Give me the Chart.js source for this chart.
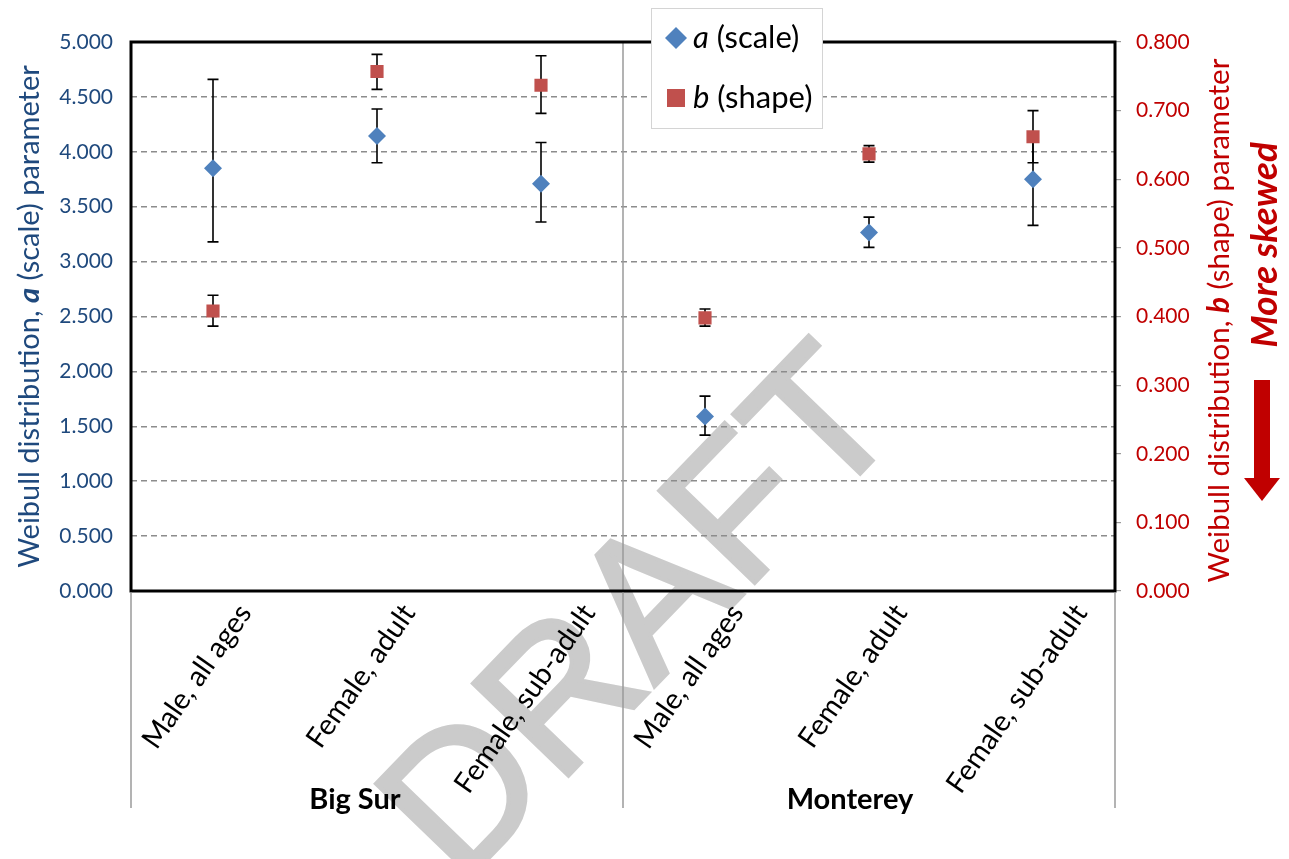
<!DOCTYPE html>
<html>
<head>
<meta charset="utf-8">
<script src="https://cdn.jsdelivr.net/npm/chart.js@4.4.1/dist/chart.umd.min.js"></script>
<style>
  html, body { margin: 0; padding: 0; background: #ffffff; }
  #wrap { width: 1289px; height: 859px; position: relative; }
</style>
</head>
<body>
<div id="wrap"><canvas id="weibull" width="1289" height="859"></canvas></div>
<script>
// Sample groups and the categories within each
const groups = ['Big Sur', 'Monterey'];
const categories = ['Male, all ages', 'Female, adult', 'Female, sub-adult',
                    'Male, all ages', 'Female, adult', 'Female, sub-adult'];

// Weibull scale parameter a, with lower / upper confidence limits
const scaleA     = [3.850, 4.145, 3.710, 1.590, 3.265, 3.750];
const scaleALow  = [3.180, 3.900, 3.360, 1.420, 3.130, 3.330];
const scaleAHigh = [4.660, 4.390, 4.085, 1.775, 3.405, 4.160];

// Weibull shape parameter b, with lower / upper confidence limits
const shapeB     = [0.408, 0.757, 0.737, 0.398, 0.637, 0.662];
const shapeBLow  = [0.386, 0.731, 0.696, 0.386, 0.625, 0.624];
const shapeBHigh = [0.431, 0.782, 0.780, 0.411, 0.649, 0.700];

// Axis ranges
const leftAxis  = { min: 0, max: 5,   step: 0.5 };
const rightAxis = { min: 0, max: 0.8, step: 0.1 };

const BLUE_TEXT = '#1F497D';
const RED_TEXT = '#C00000';
const FONT = 'Lato, "Open Sans", sans-serif';

// Draw a sequence of differently styled text runs centred on (cx, cy)
function drawRuns(ctx, runs, cx, cy, rotation, color, size) {
  ctx.save();
  ctx.translate(cx, cy);
  ctx.rotate(rotation);
  ctx.fillStyle = color;
  ctx.textBaseline = 'middle';
  ctx.textAlign = 'left';
  let total = 0;
  runs.forEach(r => { ctx.font = `${r.style || ''} ${size}px ${FONT}`; r.w = ctx.measureText(r.text).width; total += r.w; });
  let x = -total / 2;
  runs.forEach(r => { ctx.font = `${r.style || ''} ${size}px ${FONT}`; ctx.fillText(r.text, x, 0); x += r.w; });
  ctx.restore();
}

const decor = {
  id: 'decor',
  beforeDraw(chart) {
    const ctx = chart.ctx;
    ctx.save();
    ctx.fillStyle = '#ffffff';
    ctx.fillRect(0, 0, chart.width, chart.height);
    // DRAFT watermark
    ctx.translate(684, 656);
    ctx.rotate(-46 * Math.PI / 180);
    ctx.font = '193px "Liberation Sans", Arial, sans-serif';
    ctx.fillStyle = '#CBCBCB';
    ctx.strokeStyle = '#CBCBCB';
    ctx.lineWidth = 4;
    ctx.textAlign = 'center';
    ctx.textBaseline = 'alphabetic';
    ctx.fillText('DRAFT', 0, 0);
    ctx.strokeText('DRAFT', 0, 0);
    ctx.restore();
  },
  beforeDatasetsDraw(chart) {
    const ctx = chart.ctx;
    const x = chart.scales.x;
    const area = chart.chartArea;
    // separator between the two groups
    const mid = (x.getPixelForValue(2) + x.getPixelForValue(3)) / 2;
    ctx.save();
    ctx.strokeStyle = '#9a9a9a';
    ctx.lineWidth = 1.5;
    ctx.beginPath();
    ctx.moveTo(mid, area.top);
    ctx.lineTo(mid, area.bottom);
    ctx.stroke();
    // error bars
    ctx.strokeStyle = '#000000';
    ctx.lineWidth = 1.6;
    chart.data.datasets.forEach((ds, i) => {
      const meta = chart.getDatasetMeta(i);
      const scale = chart.scales[ds.yAxisID];
      meta.data.forEach((pt, j) => {
        const yl = scale.getPixelForValue(ds.errLow[j]);
        const yh = scale.getPixelForValue(ds.errHigh[j]);
        const cap = 5.5;
        ctx.beginPath();
        ctx.moveTo(pt.x, yl); ctx.lineTo(pt.x, yh);
        ctx.moveTo(pt.x - cap, yl); ctx.lineTo(pt.x + cap, yl);
        ctx.moveTo(pt.x - cap, yh); ctx.lineTo(pt.x + cap, yh);
        ctx.stroke();
      });
    });
    ctx.restore();
  },
  afterDraw(chart) {
    const ctx = chart.ctx;
    const area = chart.chartArea;
    const x = chart.scales.x;
    const ds = chart.data.datasets;
    ctx.save();

    // plot frame
    ctx.strokeStyle = '#000000';
    ctx.lineWidth = 3;
    ctx.strokeRect(area.left, area.top, area.right - area.left, area.bottom - area.top);

    // rotated category labels: bounding box hangs from the axis, centred near the tick
    const angle = 55 * Math.PI / 180;
    const labelSize = 28.7;
    ctx.fillStyle = '#000000';
    ctx.font = `${labelSize}px ${FONT}`;
    ctx.textAlign = 'center';
    ctx.textBaseline = 'middle';
    chart.data.labels.forEach((lab, i) => {
      const w = ctx.measureText(lab).width;
      const h = labelSize * 0.95;
      const boxH = w * Math.sin(angle) + h * Math.cos(angle);
      const cx = x.getPixelForValue(i) - 16;
      const cy = area.bottom + 9 + boxH / 2;
      ctx.save();
      ctx.translate(cx, cy);
      ctx.rotate(-angle);
      ctx.fillText(lab, 0, 0);
      ctx.restore();
    });

    // group separators below the plot
    const mid = (x.getPixelForValue(2) + x.getPixelForValue(3)) / 2;
    const sepBottom = 808;
    ctx.strokeStyle = '#9a9a9a';
    ctx.lineWidth = 1.5;
    ctx.beginPath();
    [area.left, mid, area.right].forEach(px => {
      ctx.moveTo(px, area.bottom + 1.5);
      ctx.lineTo(px, sepBottom);
    });
    ctx.stroke();

    // group names
    ctx.fillStyle = '#000000';
    ctx.font = `bold 29px ${FONT}`;
    ctx.textAlign = 'center';
    ctx.textBaseline = 'middle';
    const g1 = (x.getPixelForValue(0) + x.getPixelForValue(2)) / 2 - 22;
    const g2 = (x.getPixelForValue(3) + x.getPixelForValue(5)) / 2 - 19;
    ctx.fillText(groups[0], g1, 800);
    ctx.fillText(groups[1], g2, 800);

    // axis titles
    drawRuns(ctx, [{ text: 'Weibull distribution, ' }, { text: 'a', style: 'italic bold' }, { text: ' (scale) parameter' }],
      30, (area.top + area.bottom) / 2, -Math.PI / 2, BLUE_TEXT, 29);
    drawRuns(ctx, [{ text: 'Weibull distribution, ' }, { text: 'b', style: 'italic bold' }, { text: ' (shape) parameter' }],
      1219, (area.top + area.bottom) / 2 + 4, -Math.PI / 2, RED_TEXT, 29.5);

    // skew note and arrow
    drawRuns(ctx, [{ text: 'More skewed', style: 'italic bold' }], 1265, 245, -Math.PI / 2, RED_TEXT, 37);
    ctx.fillStyle = RED_TEXT;
    ctx.fillRect(1254, 380, 16, 98);
    ctx.beginPath();
    ctx.moveTo(1244, 478); ctx.lineTo(1280, 478); ctx.lineTo(1262, 501); ctx.closePath();
    ctx.fill();

    // legend
    const lx = 651.5, ly = 8.5, lw = 171, lh = 120;
    ctx.fillStyle = '#ffffff';
    ctx.fillRect(lx, ly, lw, lh);
    ctx.strokeStyle = '#d4d4d4';
    ctx.lineWidth = 1;
    ctx.strokeRect(lx, ly, lw, lh);
    // a marker
    ctx.fillStyle = ds[0].backgroundColor;
    ctx.beginPath();
    ctx.moveTo(676, 27); ctx.lineTo(687, 38); ctx.lineTo(676, 49); ctx.lineTo(665, 38); ctx.closePath();
    ctx.fill();
    // b marker
    ctx.fillStyle = ds[1].backgroundColor;
    ctx.fillRect(667, 89, 18, 18);
    ctx.fillStyle = '#000000';
    ctx.textAlign = 'left';
    ctx.textBaseline = 'middle';
    const legendRow = (y, letter, rest) => {
      ctx.font = `italic 31px ${FONT}`;
      ctx.fillText(letter, 693, y);
      const w = ctx.measureText(letter).width;
      ctx.font = `31px ${FONT}`;
      ctx.fillText(rest, 693 + w, y);
    };
    legendRow(38, 'a', ' (scale)');
    legendRow(98, 'b', ' (shape)');
    ctx.restore();
  }
};

const ctx = document.getElementById('weibull').getContext('2d');
new Chart(ctx, {
  type: 'line',
  data: {
    labels: categories,
    datasets: [
      {
        label: 'a (scale)', data: scaleA, errLow: scaleALow, errHigh: scaleAHigh,
        yAxisID: 'y', showLine: false,
        pointStyle: 'rectRot', pointRadius: 9, pointHoverRadius: 9,
        backgroundColor: '#4F81BD', borderColor: '#4F81BD', pointBorderWidth: 0
      },
      {
        label: 'b (shape)', data: shapeB, errLow: shapeBLow, errHigh: shapeBHigh,
        yAxisID: 'y1', showLine: false,
        pointStyle: 'rect', pointRadius: 9.3, pointHoverRadius: 9.3,
        backgroundColor: '#C0504D', borderColor: '#C0504D', pointBorderWidth: 0
      }
    ]
  },
  options: {
    responsive: false,
    animation: false,
    events: [],
    layout: { padding: { top: 42, left: 0, right: 0, bottom: 0 } },
    plugins: { legend: { display: false }, tooltip: { enabled: false } },
    scales: {
      x: {
        type: 'category', offset: true,
        grid: { display: false }, border: { display: false },
        ticks: { display: false },
        afterFit(s) { s.height = 268; }
      },
      y: {
        position: 'left', min: leftAxis.min, max: leftAxis.max,
        ticks: {
          stepSize: leftAxis.step, color: BLUE_TEXT, font: { family: FONT, size: 21 },
          padding: 18, callback: v => Number(v).toFixed(3)
        },
        grid: {
          drawTicks: false, lineWidth: 1.5,
          color: c => (c.tick && c.tick.value > leftAxis.min && c.tick.value < leftAxis.max) ? '#8c8c8c' : 'rgba(0,0,0,0)'
        },
        border: { display: false, dash: [6, 4] },
        afterFit(s) { s.width = 131; }
      },
      y1: {
        position: 'right', min: rightAxis.min, max: rightAxis.max,
        ticks: {
          stepSize: rightAxis.step, color: RED_TEXT, font: { family: FONT, size: 21 },
          padding: 15, callback: v => Number(v).toFixed(3)
        },
        grid: { drawOnChartArea: false, drawTicks: true, tickLength: 6, color: '#9a9a9a', lineWidth: 1.2 },
        border: { display: false },
        afterFit(s) { s.width = 174; }
      }
    }
  },
  plugins: [decor]
});
</script>
</body>
</html>
